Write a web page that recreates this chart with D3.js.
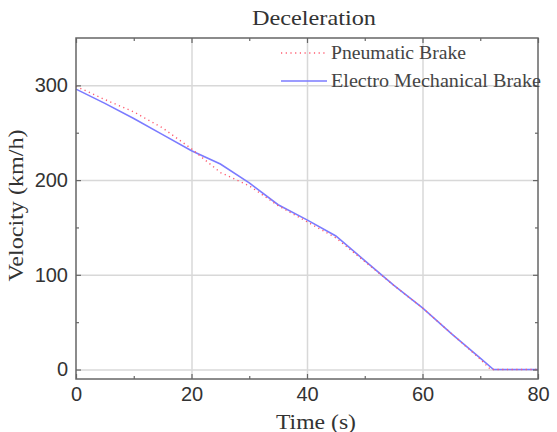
<!DOCTYPE html>
<html>
<head>
<meta charset="utf-8">
<script src="https://cdn.jsdelivr.net/npm/d3@7"></script>
<style>
body { margin: 0; background: #fff; }
svg { display: block; }
</style>
</head>
<body>
<script>
// values
const pneumaticTime = [0, 5, 10, 15, 20, 25, 30, 35, 40, 45, 50, 55, 60, 65, 70, 71.8, 80];
const pneumaticVelocity = [299, 285, 272, 255, 233, 208, 194, 173, 156, 139, 114, 89, 65, 38, 11, 0, 0];
const electroTime = [0, 5, 10, 15, 20, 25, 30, 35, 40, 45, 50, 55, 60, 65, 70, 72.3, 80];
const electroVelocity = [296, 281, 265, 248, 231, 217, 197, 174, 158, 141, 115, 89, 65, 38, 12, 0, 0];
const xTicks = [0, 20, 40, 60, 80];
const xMinor = [10, 30, 50, 70];
const yTicks = [0, 100, 200, 300];
const yMinor = [50, 150, 250];
const seriesNames = ["Pneumatic Brake", "Electro Mechanical Brake"];

const width = 557, height = 432;
const margin = {left: 76, right: 19, top: 38, bottom: 53};
const iw = width - margin.left - margin.right;
const ih = height - margin.top - margin.bottom;
const serif = "Liberation Serif, Times New Roman, serif";
const sans = "Liberation Sans, Arial, sans-serif";

const svg = d3.select("body").append("svg")
    .attr("width", width)
    .attr("height", height);

const g = svg.append("g").attr("transform", `translate(${margin.left},${margin.top})`);

const x = d3.scaleLinear().domain([0, 80]).range([0, iw]);
const y = d3.scaleLinear().domain([-10, 350]).range([ih, 0]);

// grid
g.append("g").attr("class", "grid")
    .attr("transform", `translate(0,${ih})`)
    .call(d3.axisBottom(x).tickValues(xTicks.slice(1, -1)).tickSize(-ih).tickFormat(""));
g.append("g").attr("class", "grid")
    .call(d3.axisLeft(y).tickValues(yTicks).tickSize(-iw).tickFormat(""));
g.selectAll(".grid .domain").remove();
g.selectAll(".grid line").attr("stroke", "#d8d8d8").attr("stroke-width", 1.5);

// series
const line = d3.line().x(d => x(d[0])).y(d => y(d[1]));
const electro = d3.zip(electroTime, electroVelocity);
const pneumatic = d3.zip(pneumaticTime, pneumaticVelocity);

g.append("path").datum(electro)
    .attr("d", line)
    .attr("fill", "none")
    .attr("stroke", "#7b7bff")
    .attr("stroke-width", 1.6);
g.append("path").datum(pneumatic)
    .attr("d", line)
    .attr("fill", "none")
    .attr("stroke", "#ff5a6e")
    .attr("stroke-width", 1.4)
    .attr("stroke-dasharray", "1.2,3.5");

// axes with inward ticks, mirrored top and right
function styleAxis(sel) {
    sel.select(".domain").remove();
    sel.selectAll("line").attr("stroke", "#666").attr("stroke-width", 1.2);
}
g.append("g").attr("transform", `translate(0,${ih})`)
    .call(d3.axisBottom(x).tickValues(xTicks).tickSize(-5).tickFormat("")).call(styleAxis);
g.append("g").attr("transform", `translate(0,${ih})`)
    .call(d3.axisBottom(x).tickValues(xMinor).tickSize(-3).tickFormat("")).call(styleAxis);
g.append("g")
    .call(d3.axisTop(x).tickValues(xTicks).tickSize(-5).tickFormat("")).call(styleAxis);
g.append("g")
    .call(d3.axisTop(x).tickValues(xMinor).tickSize(-3).tickFormat("")).call(styleAxis);
g.append("g")
    .call(d3.axisLeft(y).tickValues(yTicks).tickSize(-5).tickFormat("")).call(styleAxis);
g.append("g")
    .call(d3.axisLeft(y).tickValues(yMinor).tickSize(-3).tickFormat("")).call(styleAxis);
g.append("g").attr("transform", `translate(${iw},0)`)
    .call(d3.axisRight(y).tickValues(yTicks).tickSize(-5).tickFormat("")).call(styleAxis);
g.append("g").attr("transform", `translate(${iw},0)`)
    .call(d3.axisRight(y).tickValues(yMinor).tickSize(-3).tickFormat("")).call(styleAxis);

// tick labels
const xl = g.append("g").attr("transform", `translate(0,${ih})`)
    .call(d3.axisBottom(x).tickValues(xTicks).tickSize(0).tickPadding(8).tickFormat(d3.format("d")));
xl.select(".domain").remove();
xl.selectAll("text").attr("font-family", sans)
    .attr("font-size", 20).attr("fill", "#333");

const yl = g.append("g")
    .call(d3.axisLeft(y).tickValues(yTicks).tickSize(0).tickPadding(8).tickFormat(d3.format("d")));
yl.select(".domain").remove();
yl.selectAll("text").attr("font-family", sans)
    .attr("font-size", 20).attr("fill", "#333");

// frame
g.append("rect")
    .attr("width", iw).attr("height", ih)
    .attr("fill", "none").attr("stroke", "#666").attr("stroke-width", 1.5);

// legend
const legend = g.append("g").attr("transform", `translate(${x(35.5)},0)`);
const legendStyles = [
    {stroke: "#ff5a6e", dash: "1.2,3.5", w: 1.4, len: 135},
    {stroke: "#7b7bff", dash: null, w: 1.6, len: 210}
];
seriesNames.forEach((name, i) => {
    const row = legend.append("g").attr("transform", `translate(0,${15 + i * 28})`);
    row.append("line")
        .attr("x1", 0).attr("x2", 46)
        .attr("stroke", legendStyles[i].stroke)
        .attr("stroke-width", legendStyles[i].w)
        .attr("stroke-dasharray", legendStyles[i].dash);
    row.append("text")
        .attr("x", 50).attr("dy", "0.35em")
        .attr("font-family", serif)
        .attr("font-size", 18).attr("fill", "#444")
        .attr("textLength", legendStyles[i].len)
        .attr("lengthAdjust", "spacingAndGlyphs")
        .text(name);
});

// titles
svg.append("text")
    .attr("x", 314).attr("y", 25)
    .attr("text-anchor", "middle")
    .attr("font-family", serif).attr("font-size", 21).attr("fill", "#333")
    .attr("textLength", 124).attr("lengthAdjust", "spacingAndGlyphs")
    .text("Deceleration");
svg.append("text")
    .attr("x", 316).attr("y", 429)
    .attr("text-anchor", "middle")
    .attr("font-family", serif).attr("font-size", 20).attr("fill", "#333")
    .attr("textLength", 80).attr("lengthAdjust", "spacingAndGlyphs")
    .text("Time (s)");
svg.append("text")
    .attr("transform", `translate(23,${margin.top + ih / 2 - 3}) rotate(-90)`)
    .attr("text-anchor", "middle")
    .attr("font-family", serif).attr("font-size", 21).attr("fill", "#333")
    .attr("textLength", 152).attr("lengthAdjust", "spacingAndGlyphs")
    .text("Velocity (km/h)");
</script>
</body>
</html>
